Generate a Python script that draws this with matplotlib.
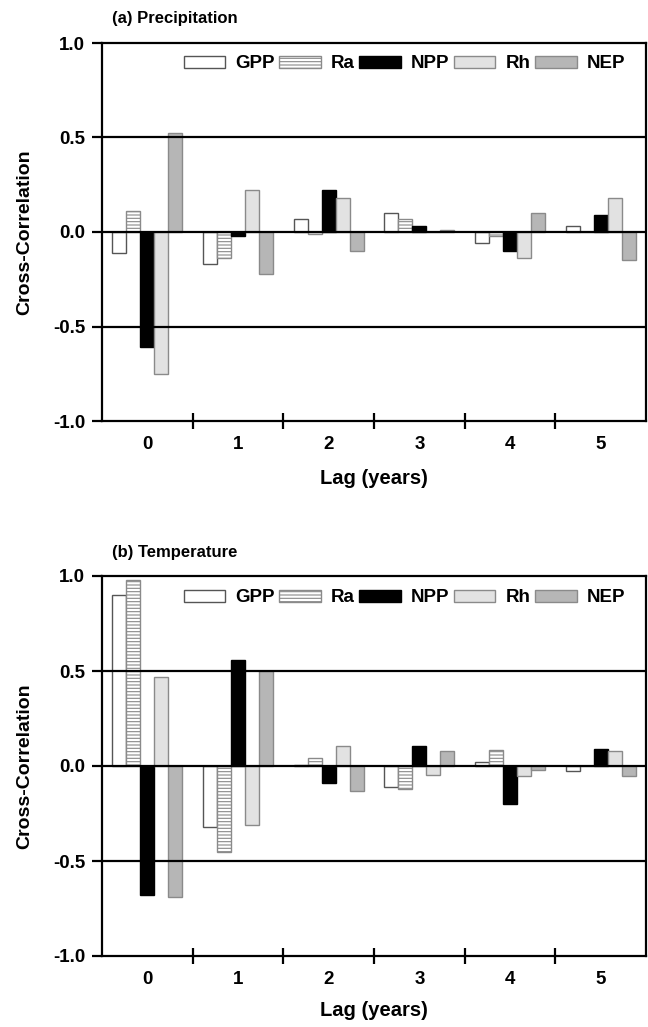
import matplotlib
matplotlib.use("Agg")
import matplotlib.pyplot as plt
import numpy as np

plt.rcParams['font.family'] = ['Liberation Sans', 'DejaVu Sans']
plt.rcParams['font.weight'] = 'bold'
plt.rcParams['font.size'] = 13.5
plt.rcParams['hatch.linewidth'] = 0.8

lags = [0, 1, 2, 3, 4, 5]
series = ["GPP", "Ra", "NPP", "Rh", "NEP"]

precip_GPP = [-0.11, -0.17, 0.07, 0.10, -0.06, 0.03]
precip_Ra = [0.11, -0.14, -0.01, 0.07, -0.02, 0.0]
precip_NPP = [-0.61, -0.02, 0.22, 0.03, -0.10, 0.09]
precip_Rh = [-0.75, 0.22, 0.18, 0.0, -0.14, 0.18]
precip_NEP = [0.525, -0.22, -0.10, 0.01, 0.10, -0.15]

temp_GPP = [0.90, -0.32, 0.005, -0.11, 0.02, -0.025]
temp_Ra = [0.98, -0.45, 0.04, -0.12, 0.085, 0.0]
temp_NPP = [-0.68, 0.56, -0.09, 0.105, -0.20, 0.09]
temp_Rh = [0.47, -0.31, 0.105, -0.045, -0.05, 0.08]
temp_NEP = [-0.69, 0.50, -0.13, 0.08, -0.02, -0.05]

panels = [
    ("(a) Precipitation", [precip_GPP, precip_Ra, precip_NPP, precip_Rh, precip_NEP]),
    ("(b) Temperature", [temp_GPP, temp_Ra, temp_NPP, temp_Rh, temp_NEP]),
]

styles = [
    dict(facecolor="white", edgecolor="#555555", hatch=None),
    dict(facecolor="white", edgecolor="#8a8a8a", hatch="-----"),
    dict(facecolor="black", edgecolor="black", hatch=None),
    dict(facecolor="#e2e2e2", edgecolor="#8a8a8a", hatch=None),
    dict(facecolor="#b6b6b6", edgecolor="#8a8a8a", hatch=None),
]

W, H = 648, 1027
fig = plt.figure(figsize=(W / 100, H / 100), dpi=100)

axes_px = [(43, 421), (576, 956)]
left_px, right_px = 102, 646
title_y = [19, 553]
xlabel_y = [478, 1011]
legend_y = [64, 598]

bw = 0.154
x = np.arange(len(lags))
for (title, data), (top, bot), ty, xly, ly in zip(panels, axes_px, title_y, xlabel_y, legend_y):
    ax = fig.add_axes([left_px / W, 1 - bot / H, (right_px - left_px) / W, (bot - top) / H])
    handles = []
    for i, (name, vals, st) in enumerate(zip(series, data, styles)):
        b = ax.bar(x + (i - 2) * bw, vals, width=bw, facecolor=st["facecolor"],
                   edgecolor=st["edgecolor"], hatch=st["hatch"], linewidth=1.0,
                   label=name, zorder=2)
        handles.append(b)
    for yv in (0.5, 0.0, -0.5):
        ax.axhline(yv, color="black", lw=1.6, zorder=3)
    ax.set_xlim(-0.5, 5.5)
    ax.set_ylim(-1.0, 1.0)
    ax.set_xticks(x)
    ax.set_xticklabels([str(l) for l in lags])
    ax.set_xticks(x[:-1] + 0.5, minor=True)
    ax.tick_params(axis="x", which="major", length=0, pad=11)
    ax.tick_params(axis="x", which="minor", direction="inout", length=11, width=1.6)
    ax.set_yticks([-1.0, -0.5, 0.0, 0.5, 1.0])
    ax.set_yticklabels(["-1.0", "-0.5", "0.0", "0.5", "1.0"])
    ax.tick_params(axis="y", direction="out", length=7, width=1.6, pad=5)
    for s in ax.spines.values():
        s.set_linewidth(1.6)
    fig.text(25 / W, 1 - (top + bot) / 2 / H, "Cross-Correlation", rotation=90,
             ha="center", va="center", fontsize=14, fontweight="bold")
    fig.text(374 / W, 1 - xly / H, "Lag (years)", ha="center", va="center",
             fontsize=14.5, fontweight="bold")
    ax.legend(handles=handles, ncol=5, frameon=False, loc="center right",
              bbox_to_anchor=(625 / W, 1 - ly / H), bbox_transform=fig.transFigure,
              handlelength=2.2, handleheight=0.64, handletextpad=0.53,
              columnspacing=0.27, borderpad=0, borderaxespad=0)
    fig.text(112 / W, 1 - ty / H, title, ha="left", va="center",
             fontsize=12, fontweight="bold")

fig.savefig("out.png", dpi=100)
